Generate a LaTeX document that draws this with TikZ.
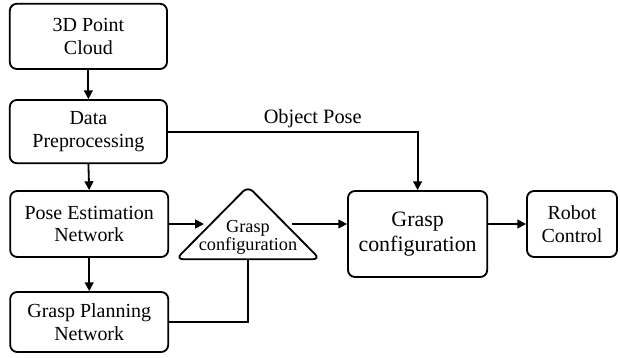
\documentclass[tikz,border=0pt]{standalone}
\usepackage{fontspec}
\setmainfont{Liberation Serif}
\newfontfamily\tnr{Liberation Serif}
\usepackage{tikz}
\usetikzlibrary{positioning, arrows.meta, shapes.geometric, calc}

\begin{document}
\begin{tikzpicture}[
  every node/.style={align=center, font=\tnr\fontsize{14.2}{16.3}\selectfont},
  proc/.style={
    rectangle, rounded corners=5pt, draw=black, line width=1.3pt,
    minimum width=3.93cm, minimum height=1.63cm, inner sep=2pt
  },
  tri/.style={
    isosceles triangle, shape border rotate=90, isosceles triangle stretches,
    rounded corners=5pt, draw=black, line width=1.3pt, inner sep=0pt,
    minimum width=3.6cm, minimum height=1.82cm
  },
  tritext/.style={font=\tnr\fontsize{13}{13}\selectfont, align=center},
  flow/.style={-{Triangle[length=2.2mm, width=2.2mm]}, line width=1.3pt},
  link/.style={line width=1.3pt},
  lbl/.style={font=\tnr\fontsize{14.5}{16}\selectfont, inner sep=2pt},
]
\useasboundingbox (0,0) rectangle (15.5,-8.95);
\node[proc] (cloud) at (2.21,-0.91) {3D Point\\Cloud};
\node[proc, minimum height=1.58cm] (prep) at (2.21,-3.29) {Data\\Preprocessing};
\node[proc, minimum width=3.95cm, minimum height=1.65cm] (pose) at (2.23,-5.6) {Pose Estimation\\Network};
\node[proc, minimum width=3.95cm, minimum height=1.5cm] (plan) at (2.23,-8.05) {Grasp Planning\\Network};
\node[tri, anchor=apex, label={[tritext, yshift=-0.2cm]center:Grasp\\configuration}] (tri) at (6.2,-4.6) {};
\node[proc, minimum width=3.48cm, minimum height=2.15cm, font=\tnr\fontsize{15.6}{17.7}\selectfont] (grasp) at (10.44,-5.85) {Grasp\\configuration};
\node[proc, minimum width=2.25cm, minimum height=1.65cm] (robot) at (14.3,-5.6) {Robot\\Control};
\draw[flow] (cloud.south) -- (prep.north);
\draw[flow] (prep.south) -- (pose.north);
\draw[flow] (pose.south) -- (plan.north);
\draw[flow] (prep.east) -| node[lbl, above, pos=0.29]{Object Pose} (grasp.north);
\draw[flow] (pose.east) -- (pose.east -| tri.west);
\draw[flow] (pose.east -| tri.east) -- (pose.east -| grasp.west);
\draw[flow] (grasp.east |- robot.west) -- (robot.west);
\draw[link] (plan.east) -| (tri.lower side);
\end{tikzpicture}
\end{document}
